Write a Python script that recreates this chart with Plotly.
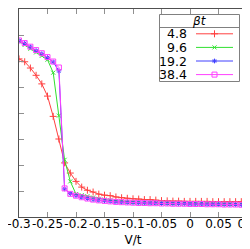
import plotly.graph_objects as go

x_vals = [-0.30, -0.29, -0.28, -0.27, -0.26, -0.25, -0.24, -0.23, -0.22, -0.21,
          -0.20, -0.19, -0.18, -0.17, -0.16, -0.15, -0.14, -0.13, -0.12, -0.11,
          -0.10, -0.09, -0.08, -0.07, -0.06, -0.05, -0.04, -0.03, -0.02, -0.01,
          0.00, 0.01, 0.02, 0.03, 0.04, 0.05, 0.06, 0.07, 0.08, 0.09, 0.10]

y_48 = [6.08, 5.97, 5.73, 5.45, 5.12, 4.65, 3.87, 3.00, 2.08, 1.69,
        1.37, 1.15, 1.03, 0.96, 0.88, 0.84, 0.82, 0.77, 0.74, 0.72,
        0.70, 0.69, 0.67, 0.67, 0.65, 0.63, 0.62, 0.61, 0.61, 0.60,
        0.60, 0.60, 0.60, 0.60, 0.59, 0.59, 0.59, 0.59, 0.59, 0.59, 0.59]

y_96 = [6.76, 6.62, 6.47, 6.33, 6.20, 6.05, 5.55, 3.90, 2.20, 1.37,
        0.88, 0.84, 0.80, 0.75, 0.70, 0.67, 0.64, 0.62, 0.60, 0.58,
        0.57, 0.56, 0.55, 0.55, 0.54, 0.54, 0.53, 0.53, 0.52, 0.52,
        0.52, 0.51, 0.51, 0.51, 0.50, 0.50, 0.50, 0.50, 0.49, 0.49, 0.50]

y_192 = [6.78, 6.68, 6.54, 6.40, 6.28, 6.13, 5.96, 5.62, 1.08, 0.90,
         0.82, 0.76, 0.71, 0.67, 0.64, 0.62, 0.60, 0.58, 0.57, 0.56,
         0.55, 0.54, 0.54, 0.53, 0.53, 0.52, 0.52, 0.51, 0.51, 0.51,
         0.50, 0.50, 0.50, 0.49, 0.49, 0.49, 0.48, 0.48, 0.48, 0.47, 0.49]

y_384 = [6.79, 6.69, 6.55, 6.42, 6.30, 6.15, 5.98, 5.75, 1.10, 0.89,
         0.82, 0.76, 0.71, 0.67, 0.64, 0.62, 0.60, 0.58, 0.57, 0.56,
         0.55, 0.54, 0.54, 0.53, 0.53, 0.52, 0.52, 0.51, 0.51, 0.51,
         0.50, 0.50, 0.50, 0.49, 0.49, 0.49, 0.48, 0.48, 0.48, 0.47, 0.48]

series_names = ["4.8", "9.6", "19.2", "38.4"]
series_values = [y_48, y_96, y_192, y_384]
series_colors = ["#ff4040", "#30e030", "#4040ff", "#ff40ff"]
series_symbols = ["cross-thin", "x-thin", "asterisk", "square-open"]
series_msize = [5, 4, 4, 5]

x_ticks = [-0.3, -0.25, -0.2, -0.15, -0.1, -0.05, 0, 0.05, 0.1]
x_ticklabels = ["-0.3", "-0.25", "-0.2", "-0.15", "-0.1", "-0.05", "0", "0.05", "0.1"]

legend_title = "<i>βt</i>"

FONT = "DejaVu Sans"
W, H = 250, 249
ML, MR, MT, MB = 11, 11, 1, 40

fig = go.Figure()
for name, ys, col, sym, ms in zip(series_names, series_values, series_colors, series_symbols, series_msize):
    fig.add_trace(go.Scatter(
        x=x_vals, y=ys, name=name, mode="lines+markers", showlegend=False,
        line=dict(color=col, width=1),
        marker=dict(symbol=sym, size=ms, color=col, line=dict(color=col, width=1)),
    ))

# --- gnuplot-style key drawn on a pixel-space overlay axis ---
key_left, key_right, key_top, key_bottom = 151.5, 231.5, 6.5, 73.5
key_sep = 19.5
row_y0, row_dy = 25.8, 13.6
label_x = 181
sample_x0, sample_x1 = 188, 225

shapes = [
    dict(type="rect", xref="x2", yref="y2", x0=key_left, x1=key_right, y0=key_top, y1=key_bottom,
         line=dict(color="#808080", width=1), fillcolor="white", layer="below"),
    dict(type="line", xref="x2", yref="y2", x0=key_left, x1=key_right, y0=key_sep, y1=key_sep,
         line=dict(color="#808080", width=1), layer="below"),
]
annotations = [
    dict(xref="x2", yref="y2", x=(key_left + key_right) / 2, y=(key_top + key_sep) / 2,
         text=legend_title, showarrow=False, xanchor="center", yanchor="middle",
         font=dict(family=FONT, size=12, color="black")),
]
for i, (name, col, sym, ms) in enumerate(zip(series_names, series_colors, series_symbols, series_msize)):
    ry = row_y0 + i * row_dy
    annotations.append(dict(xref="x2", yref="y2", x=label_x, y=ry, text=name, showarrow=False,
                            xanchor="right", yanchor="middle",
                            font=dict(family=FONT, size=12.5, color="black")))
    shapes.append(dict(type="line", xref="x2", yref="y2", x0=sample_x0, x1=sample_x1, y0=ry, y1=ry,
                       line=dict(color=col, width=1), layer="below"))
    fig.add_trace(go.Scatter(
        x=[(sample_x0 + sample_x1) / 2], y=[ry], xaxis="x2", yaxis="y2", mode="markers",
        showlegend=False, hoverinfo="skip",
        marker=dict(symbol=sym, size=ms, color=col, line=dict(color=col, width=1)),
    ))

axis_common = dict(showgrid=False, zeroline=False, showline=True, mirror="allticks",
                   linecolor="#505050", linewidth=1, ticks="inside", ticklen=5,
                   tickcolor="#909090", tickwidth=1, automargin=False)

fig.update_layout(
    width=W, height=H,
    margin=dict(l=ML, r=MR, t=MT, b=MB),
    plot_bgcolor="white", paper_bgcolor="white",
    showlegend=False,
    xaxis=dict(range=[-0.3, 0.1], tickvals=x_ticks, ticktext=x_ticklabels, tickangle=0,
               tickfont=dict(family=FONT, size=12, color="black"),
               ticklabeloverflow="allow", ticklabelstandoff=-4,
               title=dict(text="V/t", font=dict(family=FONT, size=12, color="black"), standoff=5),
               **axis_common),
    yaxis=dict(range=[0, 8], dtick=1, showticklabels=False, **axis_common),
    xaxis2=dict(overlaying="x", range=[ML, W - MR], visible=False, fixedrange=True),
    yaxis2=dict(overlaying="y", range=[H - MB, MT], visible=False, fixedrange=True),
    shapes=shapes,
    annotations=annotations,
)

fig.write_html("out.html")
